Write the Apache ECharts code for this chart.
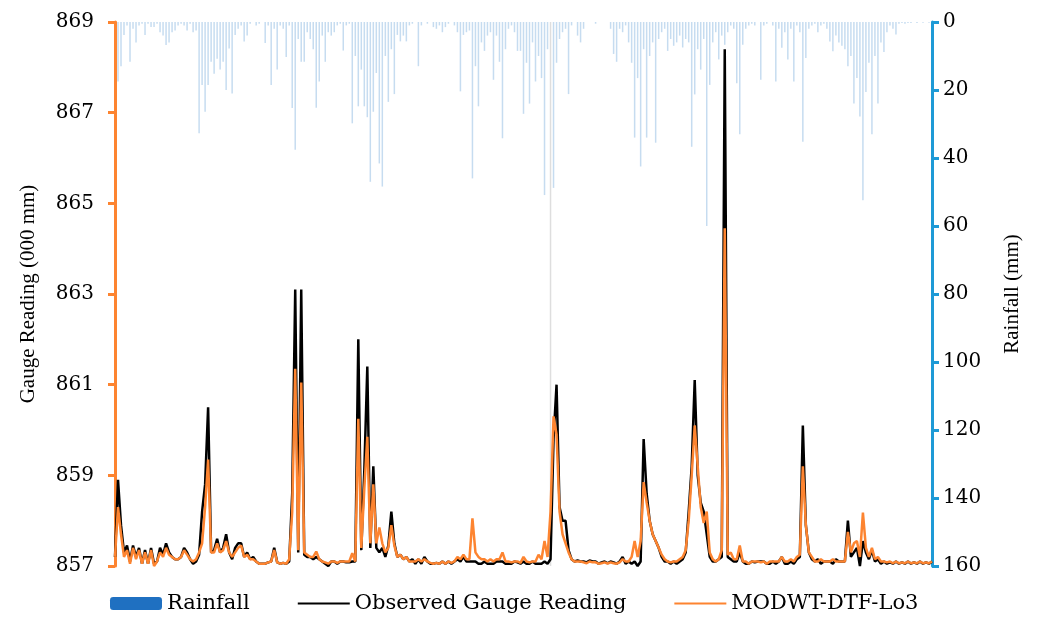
<!DOCTYPE html>
<html>
<head>
<meta charset="utf-8">
<script src="https://cdn.jsdelivr.net/npm/echarts@6/dist/echarts.min.js"></script>
<style>
  html, body { margin: 0; padding: 0; background: #ffffff; }
  #chart { width: 1037px; height: 619px; }
</style>
</head>
<body>
<div id="chart"></div>
<script>
// gauge reading (000 mm), one value every step along the record
var observed = [
  857.2, 858.9, 857.9, 857.3, 857.45, 857.1, 857.45, 857.2, 857.4, 857.05,
  857.35, 857.05, 857.4, 857.05, 857.1, 857.4, 857.25, 857.5, 857.3, 857.2,
  857.15, 857.15, 857.2, 857.4, 857.3, 857.15, 857.05, 857.1, 857.25, 858.2,
  858.8, 860.5, 857.3, 857.35, 857.6, 857.3, 857.4, 857.7, 857.3, 857.15,
  857.4, 857.5, 857.5, 857.2, 857.3, 857.15, 857.2, 857.1, 857.05, 857.05,
  857.05, 857.08, 857.1, 857.4, 857.08, 857.05, 857.07, 857.05, 857.1, 858.6,
  863.1, 857.3, 863.1, 857.25, 857.2, 857.2, 857.15, 857.2, 857.15, 857.1,
  857.05, 857.0, 857.1, 857.1, 857.05, 857.1, 857.1, 857.08, 857.08, 857.1,
  857.1, 862.0, 857.35, 859.1, 861.4, 857.4, 859.2, 857.4, 857.3, 857.4,
  857.2, 857.45, 858.2, 857.5, 857.2, 857.25, 857.15, 857.2, 857.1, 857.15,
  857.05, 857.15, 857.05, 857.2, 857.1, 857.05, 857.05, 857.07, 857.05, 857.1,
  857.05, 857.1, 857.05, 857.1, 857.15, 857.1, 857.2, 857.1, 857.1, 857.1,
  857.1, 857.05, 857.05, 857.1, 857.05, 857.05, 857.05, 857.1, 857.1, 857.1,
  857.05, 857.05, 857.05, 857.1, 857.08, 857.05, 857.1, 857.05, 857.05, 857.1,
  857.05, 857.05, 857.05, 857.1, 857.05, 857.15, 859.8, 861.0, 858.3, 858.0,
  858.0, 857.35, 857.15, 857.1, 857.12, 857.1, 857.1, 857.08, 857.12, 857.1,
  857.1, 857.05, 857.08, 857.1, 857.06, 857.1, 857.08, 857.05, 857.1, 857.2,
  857.05, 857.1, 857.05, 857.1, 857.0, 857.1, 859.8, 858.6, 858.0, 857.7,
  857.55, 857.4, 857.2, 857.1, 857.1, 857.05, 857.1, 857.05, 857.1, 857.15,
  857.3, 858.2, 859.2, 861.1, 859.0, 858.4, 858.2, 857.7, 857.2, 857.1,
  857.1, 857.15, 857.2, 868.4, 857.2, 857.15, 857.1, 857.1, 857.3, 857.1,
  857.05, 857.05, 857.1, 857.08, 857.1, 857.1, 857.1, 857.05, 857.05, 857.1,
  857.05, 857.1, 857.2, 857.05, 857.05, 857.1, 857.05, 857.15, 857.2, 860.1,
  857.9, 857.3, 857.15, 857.1, 857.15, 857.05, 857.1, 857.1, 857.1, 857.05,
  857.15, 857.1, 857.1, 857.1, 858.0, 857.2, 857.3, 857.4, 857.0, 857.55,
  857.3, 857.15, 857.35, 857.1, 857.15, 857.05, 857.1, 857.05, 857.08, 857.05,
  857.1, 857.05, 857.08, 857.05, 857.1, 857.05, 857.08, 857.05, 857.1, 857.05,
  857.08, 857.05, 857.1
];

// MODWT-DTF-Lo3 model output
var modelled = [
  857.2, 858.3, 857.7, 857.2, 857.35, 857.05, 857.4, 857.15, 857.35, 857.05,
  857.3, 857.05, 857.35, 857.0, 857.1, 857.3, 857.2, 857.4, 857.25, 857.2,
  857.15, 857.15, 857.2, 857.35, 857.25, 857.15, 857.1, 857.15, 857.3, 857.5,
  858.3, 859.35, 857.3, 857.3, 857.5, 857.3, 857.35, 857.55, 857.3, 857.2,
  857.3, 857.4, 857.45, 857.2, 857.25, 857.15, 857.15, 857.1, 857.05, 857.05,
  857.05, 857.08, 857.1, 857.35, 857.08, 857.05, 857.07, 857.05, 857.15, 858.2,
  861.35, 857.35, 861.05, 857.3, 857.25, 857.2, 857.2, 857.32, 857.15, 857.1,
  857.08, 857.05, 857.1, 857.1, 857.07, 857.1, 857.1, 857.1, 857.1, 857.28,
  857.1, 860.25, 857.4, 858.7, 859.85, 857.5, 858.8, 857.5, 857.85, 857.5,
  857.3, 857.4, 857.9, 857.45, 857.2, 857.25, 857.15, 857.2, 857.1, 857.1,
  857.1, 857.15, 857.1, 857.15, 857.1, 857.07, 857.05, 857.07, 857.05, 857.1,
  857.05, 857.1, 857.07, 857.1, 857.2, 857.15, 857.25, 857.15, 857.15, 858.05,
  857.3, 857.2, 857.15, 857.15, 857.1, 857.15, 857.1, 857.15, 857.15, 857.3,
  857.1, 857.1, 857.08, 857.1, 857.1, 857.07, 857.2, 857.1, 857.08, 857.1,
  857.1, 857.25, 857.15, 857.55, 857.2, 858.2, 860.3, 859.9, 858.2, 857.7,
  857.5, 857.3, 857.15, 857.1, 857.1, 857.1, 857.08, 857.06, 857.1, 857.08,
  857.08, 857.05, 857.06, 857.08, 857.05, 857.08, 857.06, 857.05, 857.08, 857.15,
  857.1, 857.1, 857.2, 857.55, 857.2, 857.55, 858.85, 858.4, 858.0, 857.7,
  857.55, 857.4, 857.25, 857.15, 857.1, 857.08, 857.1, 857.1, 857.15, 857.2,
  857.35, 858.0, 859.0, 860.1, 859.2, 858.3, 857.95, 858.2, 857.3, 857.15,
  857.1, 857.15, 857.35, 864.45, 857.25, 857.3, 857.15, 857.15, 857.45, 857.1,
  857.1, 857.05, 857.1, 857.1, 857.1, 857.08, 857.1, 857.05, 857.1, 857.1,
  857.1, 857.1, 857.2, 857.1, 857.1, 857.15, 857.1, 857.2, 857.25, 859.2,
  857.9, 857.3, 857.2, 857.1, 857.1, 857.15, 857.1, 857.1, 857.1, 857.15,
  857.1, 857.1, 857.1, 857.1, 857.75, 857.3, 857.5, 857.55, 857.2, 858.18,
  857.4, 857.2, 857.4, 857.15, 857.2, 857.1, 857.1, 857.08, 857.1, 857.06,
  857.1, 857.06, 857.08, 857.06, 857.1, 857.06, 857.08, 857.06, 857.1, 857.06,
  857.08, 857.06, 857.1
];

// rainfall (mm), hanging from the top
var rainfall = [
  0, 17.5, 13, 3.8, 1, 11.7, 2, 6, 1, 0.5,
  3.8, 0.5, 1.5, 1.5, 0.5, 3, 4, 6.8, 6, 3,
  2.5, 1, 0.5, 1, 2.5, 0.5, 3, 2.5, 32.7, 18.5,
  26.4, 18.5, 11.7, 15.2, 10.8, 14, 11.7, 20, 7.8, 21,
  3.8, 2, 1, 5.7, 4, 0.5, 0, 1, 0.5, 0,
  6.2, 1, 18.5, 2, 14, 1, 2, 10.3, 1, 25.3,
  37.6, 5, 11.7, 11.7, 3, 5, 8, 25.2, 17.5, 4,
  11.7, 3, 4, 3, 1, 0.5, 8.4, 1, 0.5, 29.8,
  10, 24.8, 14, 24.8, 28, 47, 26.4, 15, 41.6, 48.4,
  10, 23.5, 8, 21.2, 3.8, 5.7, 4, 5.7, 1, 0.5,
  0, 13, 1, 0, 0.5, 0, 1.5, 2, 1, 3,
  1.5, 0.5, 0, 1, 3, 20.4, 3.8, 3, 2.5, 46,
  13, 24.8, 6, 8.5, 4, 3, 17, 4, 11.7, 34.2,
  8, 2, 1, 3, 8.5, 8.5, 27, 12, 24, 6,
  17.5, 10, 16.5, 50.9, 8, 160, 48.8, 12, 5, 3,
  2, 21.2, 1, 0, 4, 6, 2, 0, 0, 0,
  0.5, 0, 0, 0, 0, 2, 9.4, 11.7, 2, 3,
  1, 6, 12, 34, 16.5, 42.5, 8, 34, 10, 6,
  35.5, 5, 3, 2, 8.5, 5, 7, 6, 4, 7.5,
  5, 6, 36.7, 21.3, 8, 14, 5, 60, 18.5, 6,
  3, 11, 4, 6.7, 3, 1, 2, 18, 33, 6.7,
  2, 1, 0.5, 1, 0, 17, 1, 0.5, 0, 1,
  17.5, 2, 7.6, 3, 11, 2, 17.5, 1, 3, 35.2,
  10.6, 2, 1, 0.5, 3, 1, 0.5, 2, 5.7, 8.6,
  4, 6, 7, 8, 13, 10, 24, 16.5, 27.8, 52.4,
  20.6, 12, 33, 10, 24, 6, 8.8, 3, 1, 2,
  3.7, 0.5, 0.3, 0.5, 0.3, 0.3, 0, 0.3, 0, 0.2,
  0, 0.2, 0
];

var gaugeTicks = ['857', '859', '861', '863', '865', '867', '869'];
var rainTicks = ['0', '20', '40', '60', '80', '100', '120', '140', '160'];

var gaugeBase = 857;
var steps = observed.map(function (v, i) { return i; });

// the original text is wide, DejaVu Serif gets closest on the horizontal labels
var wideSerif = '"DejaVu Serif", serif';
var serif = '"Liberation Serif", "Times New Roman", serif';

var chart = echarts.init(document.getElementById('chart'));

var option = {
  animation: false,
  textStyle: { fontFamily: serif },
  grid: { left: 115, right: 105, top: 22, bottom: 53 },
  legend: {
    left: 105,
    top: 588,
    itemWidth: 52,
    itemHeight: 13,
    itemGap: 47,
    textStyle: { fontFamily: wideSerif, fontSize: 21, color: '#000' },
    data: [
      { name: 'Rainfall', itemStyle: { color: '#1f70c1', opacity: 1 } },
      { name: 'Observed Gauge Reading', itemStyle: { opacity: 0 } },
      { name: 'MODWT-DTF-Lo3', itemStyle: { opacity: 0 } }
    ]
  },
  xAxis: {
    type: 'category',
    data: steps,
    boundaryGap: false,
    show: false
  },
  yAxis: [
    {
      type: 'value',
      // plotted as offset from 857 so that ticks fall on 857, 859, ...
      min: 0,
      max: 12,
      interval: 2,
      name: 'Gauge Reading (000 mm)',
      nameLocation: 'middle',
      nameRotate: 90,
      nameGap: 76,
      nameTextStyle: { fontFamily: serif, fontSize: 21, color: '#000' },
      axisLine: { show: true, lineStyle: { color: '#fd8430', width: 3 } },
      axisTick: { show: true, length: 7, lineStyle: { color: '#fd8430', width: 3 } },
      axisLabel: {
        margin: 21,
        fontFamily: wideSerif,
        fontSize: 20,
        color: '#000',
        formatter: function (v) { return gaugeTicks[Math.round(v / 2)]; }
      },
      splitLine: { show: false }
    },
    {
      type: 'value',
      position: 'right',
      inverse: true,
      min: 0,
      max: 160,
      interval: 20,
      name: 'Rainfall (mm)',
      nameLocation: 'middle',
      nameRotate: 90,
      nameGap: 70,
      nameTextStyle: { fontFamily: serif, fontSize: 21, color: '#000' },
      axisLine: { show: true, lineStyle: { color: '#1e9ad6', width: 3 } },
      axisTick: { show: true, length: 7, lineStyle: { color: '#1e9ad6', width: 3 } },
      axisLabel: {
        margin: 11,
        fontFamily: wideSerif,
        fontSize: 20,
        color: '#000',
        formatter: function (v) { return rainTicks[Math.round(v / 20)]; }
      },
      splitLine: { show: false }
    }
  ],
  series: [
    {
      name: 'Rainfall',
      type: 'bar',
      yAxisIndex: 1,
      barWidth: '50%',
      itemStyle: { color: 'rgba(91,155,213,0.35)' },
      data: rainfall.map(function (v) {
        // the off-scale day shows as a faint grey line
        if (v >= 160) {
          return { value: v, itemStyle: { color: 'rgba(190,190,190,0.5)' } };
        }
        return v;
      })
    },
    {
      name: 'Observed Gauge Reading',
      type: 'line',
      yAxisIndex: 0,
      symbol: 'none',
      color: '#000000',
      lineStyle: { color: '#000000', width: 2.5 },
      data: observed.map(function (v) { return +(v - gaugeBase).toFixed(3); })
    },
    {
      name: 'MODWT-DTF-Lo3',
      type: 'line',
      yAxisIndex: 0,
      symbol: 'none',
      color: '#fd8430',
      lineStyle: { color: '#fd8430', width: 2.5 },
      data: modelled.map(function (v) { return +(v - gaugeBase).toFixed(3); })
    }
  ]
};

chart.setOption(option);
</script>
</body>
</html>
